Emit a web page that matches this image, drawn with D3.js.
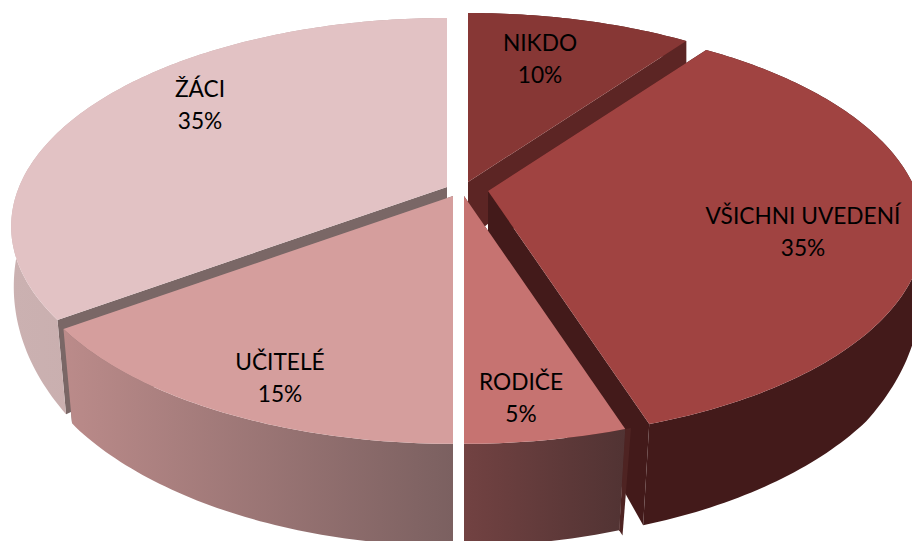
<!DOCTYPE html>
<html>
<head>
<meta charset="utf-8">
<script src="https://cdn.jsdelivr.net/npm/d3@7"></script>
<style>
  html, body { margin: 0; padding: 0; background: #fff; overflow: hidden; }
  svg { display: block; }
  .label { font-family: Lato, sans-serif; font-size: 22.7px; fill: #000; text-anchor: middle; }
</style>
</head>
<body>
<div id="chart"></div>
<script>
// chart data, clockwise from twelve o'clock
const categories = ["NIKDO", "VŠICHNI UVEDENÍ", "RODIČE", "UČITELÉ", "ŽÁCI"]
const percents = [10, 35, 5, 15, 35]

// colours per slice
const topColors = ["#873735", "#a04341", "#c67371", "#d59e9d", "#e2c2c4"]
const cutColors = ["#5c2524", "#431a1a", "#4e2322", "#7a6766", "#7a6766"]
const wallFrom = ["#5c2524", "#431a1a", "#724242", "#bb8b8a", "#cbb1b1"]
const wallTo = ["#5c2524", "#431a1a", "#513333", "#7b6060", "#bfa3a3"]

// layout: explosion centre of each slice and where its label sits
const width = 912, height = 541
const centreX = [468, 488, 464, 453, 447]
const centreY = [182, 191, 196, 196, 187]
const labelX = [540, 803, 521, 280, 200]
const labelY = [51, 224, 390, 370, 97]
const paintOrder = [0, 1, 4, 2, 3]

// 3d look of the pie
const radiusX = 428, radiusY = 201, perspective = 0.189, squeeze = 0.034
const depth = d3.scaleLinear()
    .domain([-1, -0.8, 0, 0.6, 1])
    .range([18, 23, 58, 95, 102])

const pie = d3.pie().sort(null).value(d => d)
const slices = pie(percents)

function project(i, angle, r, h){
    const u = r * Math.sin(angle)
    const v = -r * Math.cos(angle)
    const w = 1 - perspective * v
    return [
        centreX[i] + radiusX * u / (w + squeeze * h * Math.max(v, 0)),
        centreY[i] + radiusY * v / w + h * depth(v)
    ]
}

function arcPoints(i, a0, a1, h){
    const n = Math.ceil(Math.abs(a1 - a0) * 60)
    return d3.range(n + 1).map(k => project(i, a0 + (a1 - a0) * k / n, 1, h))
}

const line = d3.line()

const svg = d3.select("#chart")
    .append("svg")
    .attr("width", width)
    .attr("height", height)

const defs = svg.append("defs")

slices.forEach((d, i) => {
    const ends = arcPoints(i, d.startAngle, d.endAngle, 0)
    const xs = d3.extent(ends, p => p[0])
    const grad = defs.append("linearGradient")
        .attr("id", "wall" + i)
        .attr("gradientUnits", "userSpaceOnUse")
        .attr("x1", xs[0]).attr("x2", xs[1])
        .attr("y1", 0).attr("y2", 0)
    // the gradient runs left to right on screen
    grad.append("stop").attr("offset", 0).attr("stop-color", wallFrom[i])
    grad.append("stop").attr("offset", 1).attr("stop-color", wallTo[i])
})

paintOrder.forEach(i => {
    const d = slices[i]
    const g = svg.append("g").attr("class", "slice")
    const top = arcPoints(i, d.startAngle, d.endAngle, 0)
    const bottom = arcPoints(i, d.endAngle, d.startAngle, 1)

    // cut faces first, the outer wall hides what it should
    const cut = a => [project(i, a, 0, 0), project(i, a, 1, 0), project(i, a, 1, 1), project(i, a, 0, 1)]
    g.append("path")
        .attr("d", line(cut(d.startAngle)) + "Z")
        .attr("fill", cutColors[i])
    g.append("path")
        .attr("d", line(cut(d.endAngle)) + "Z")
        .attr("fill", cutColors[i])

    // the thin slice shows a sliver of its side past the wall
    if (percents[i] === 5) {
        const a = d.startAngle
        g.append("path")
            .attr("d", line([project(i, a, 1, 0), project(i, a - 0.012, 1, 0), project(i, a - 0.008, 1, 1.06), project(i, a, 1, 1)]) + "Z")
            .attr("fill", cutColors[i])
    }

    // outer wall
    g.append("path")
        .attr("d", line(top.concat(bottom)) + "Z")
        .attr("fill", `url(#wall${i})`)

    // top face
    g.append("path")
        .attr("d", line([project(i, 0, 0, 0)].concat(top)) + "Z")
        .attr("fill", topColors[i])
})

// labels go on last
categories.forEach((name, i) => {
    const t = svg.append("text")
        .attr("class", "label")
        .attr("x", labelX[i])
        .attr("y", labelY[i])
    t.append("tspan").attr("x", labelX[i]).text(name)
    t.append("tspan").attr("x", labelX[i]).attr("dy", 32).text(percents[i] + "%")
})
</script>
</body>
</html>
